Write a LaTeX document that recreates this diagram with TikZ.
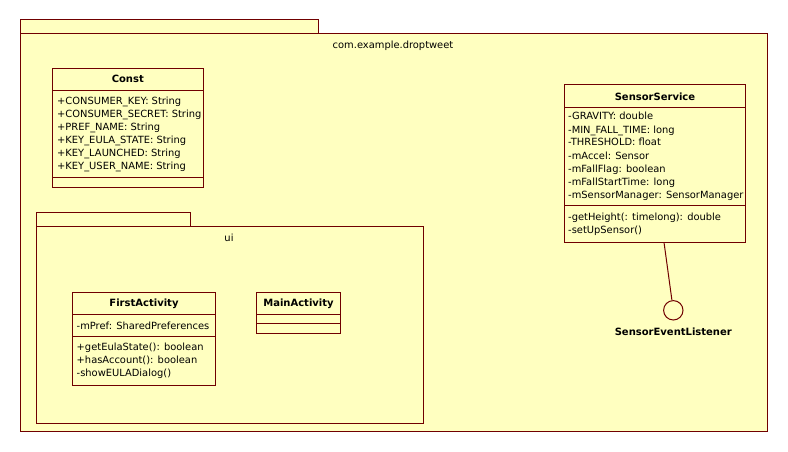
\documentclass[tikz,border=0pt]{standalone}
\usepackage{fontspec}
\setmainfont{DejaVu Sans}
\definecolor{umlfill}{RGB}{255,255,192}
\definecolor{umlline}{RGB}{112,0,0}
\tikzset{
  pkg/.style={draw=umlline, fill=umlfill, line width=1pt},
  box/.style={draw=umlline, fill=umlfill, line width=1pt},
  sep/.style={draw=umlline, line width=1pt},
  txt/.style={anchor=base west, inner sep=0pt, font=\fontsize{9.9}{11}\selectfont, text=black},
  ttl/.style={anchor=center, inner sep=0pt, font=\fontsize{10}{11}\bfseries\selectfont, text=black},
  lbl/.style={anchor=center, inner sep=0pt, font=\fontsize{9.9}{11}\selectfont, text=black},
  iface/.style={circle, draw=umlline, fill=umlfill, line width=1pt, minimum size=19.4pt, inner sep=0pt},
  conn/.style={draw=umlline, line width=1pt}
}
\begin{document}
\begin{tikzpicture}[x=1pt,y=-1pt]
\useasboundingbox (0,0) rectangle (788,452);
\fill[white] (0,0) rectangle (788,452);
% outer package
\draw[pkg] (20,20) rectangle (318,34);
\draw[pkg] (20,34) rectangle (767.5,431);
\node[lbl] (pkgname) at (393,46) {com.example.droptweet};
% Const
\draw[box] (52.3,68.3) rectangle (203.3,187.3);
\draw[sep] (52.3,90.3) -- (203.3,90.3);
\draw[sep] (52.3,177.3) -- (203.3,177.3);
\node[ttl] (const) at (127.8,79.3) {Const};
\node[txt] (c1) at (57,104.2) {+CONSUMER\_KEY: String};
\node[txt] (c2) at (57,117.2) {+CONSUMER\_SECRET: String};
\node[txt] (c3) at (57,130.2) {+PREF\_NAME: String};
\node[txt] (c4) at (57,143.2) {+KEY\_EULA\_STATE: String};
\node[txt] (c5) at (57,156.2) {+KEY\_LAUNCHED: String};
\node[txt] (c6) at (57,169.2) {+KEY\_USER\_NAME: String};
% SensorService
\draw[box] (564,84.5) rectangle (745.5,242.3);
\draw[sep] (564,107.8) -- (745.5,107.8);
\draw[sep] (564,205.7) -- (745.5,205.7);
\node[ttl] (ss) at (655,96.3) {SensorService};
\node[txt] (s1) at (568,120) {-GRAVITY: double};
\node[txt] (s2) at (568,133) {-MIN\_FALL\_TIME: long};
\node[txt] (s3) at (568,146) {-THRESHOLD: float};
\node[txt] (s4) at (568,159) {-mAccel: Sensor};
\node[txt] (s5) at (568,172) {-mFallFlag: boolean};
\node[txt] (s6) at (568,185) {-mFallStartTime: long};
\node[txt] (s7) at (568,198) {-mSensorManager: SensorManager};
\node[txt] (s8) at (568,220.2) {-getHeight(: timelong): double};
\node[txt] (s9) at (568,233.2) {-setUpSensor()};
% interface
\coordinate (ssb) at (664,242.3);
\node[iface] (sel) at (673.3,310.3) {};
\draw[conn] (ssb) -- (sel);
\node[ttl] (sellbl) at (673.3,331.7) {SensorEventListener};
% ui package
\draw[pkg] (36,212.3) rectangle (190.7,226.3);
\draw[pkg] (36,226.3) rectangle (423.7,423.3);
\node[lbl] (uiname) at (229,238.3) {ui};
% FirstActivity
\draw[box] (72.3,292.3) rectangle (215.7,385.3);
\draw[sep] (72.3,314.3) -- (215.7,314.3);
\draw[sep] (72.3,336) -- (215.7,336);
\node[ttl] (fa) at (144,303.3) {FirstActivity};
\node[txt] (f1) at (76.5,329.2) {-mPref: SharedPreferences};
\node[txt] (f2) at (76.5,350.2) {+getEulaState(): boolean};
\node[txt] (f3) at (76.5,363.5) {+hasAccount(): boolean};
\node[txt] (f4) at (76.5,376.8) {-showEULADialog()};
% MainActivity
\draw[box] (256.3,292.3) rectangle (340.7,333.3);
\draw[sep] (256.3,314.3) -- (340.7,314.3);
\draw[sep] (256.3,323.3) -- (340.7,323.3);
\node[ttl] (ma) at (298.5,303.3) {MainActivity};
\end{tikzpicture}
\end{document}
